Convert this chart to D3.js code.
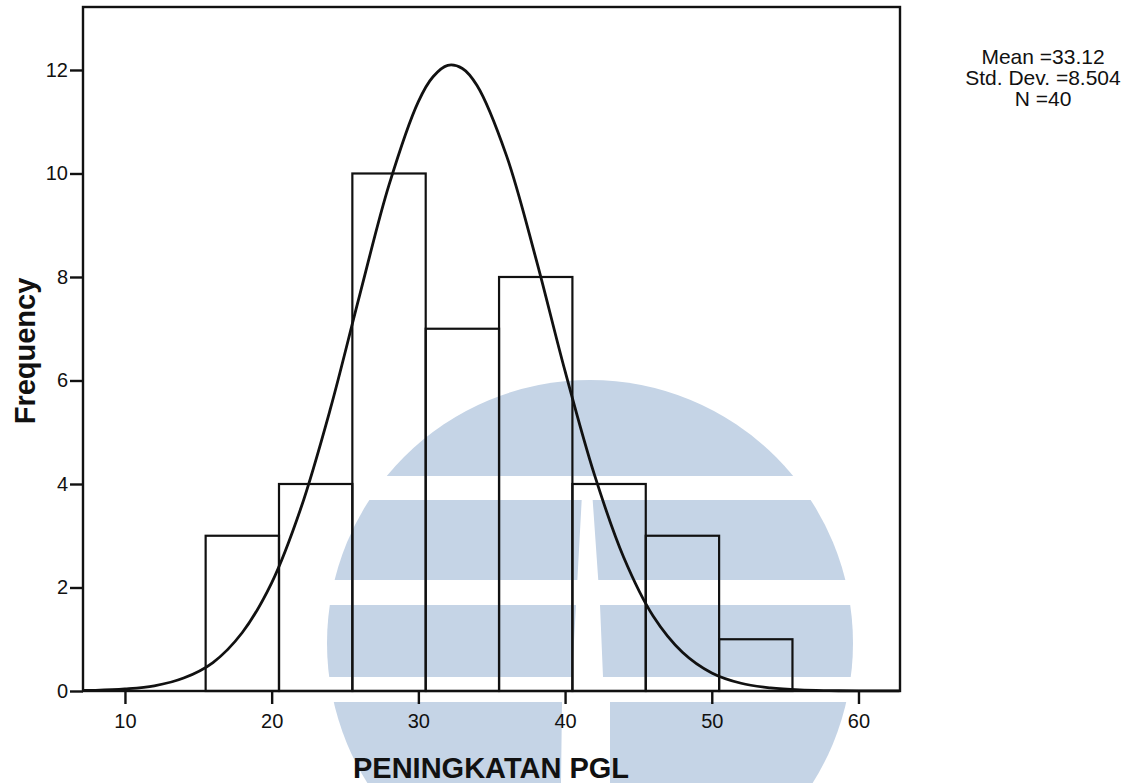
<!DOCTYPE html>
<html>
<head>
<meta charset="utf-8">
<script src="https://d3js.org/d3.v7.min.js"></script>
<style>
  body { margin: 0; background: #fff; }
  svg { display: block; font-family: "Liberation Sans", Arial, sans-serif; }
</style>
</head>
<body>
<div id="chart"></div>
<script>
// histogram bins (PENINGKATAN PGL) and counts
const binEdges = [15.5, 20.5, 25.5, 30.5, 35.5, 40.5, 45.5, 50.5, 55.5];
const counts = [3, 4, 10, 7, 8, 4, 3, 1];

// normal curve
const curveX = [7.2, 8, 10, 12, 14, 16, 18, 20, 22, 24, 26, 28, 30, 31, 32, 33, 34, 36, 38, 40, 42, 44, 46, 48, 50, 52, 54, 56, 58, 60, 62.8];
const curveY = [0.01, 0.013, 0.04, 0.1, 0.25, 0.55, 1.13, 2.09, 3.54, 5.45, 7.65, 9.78, 11.39, 11.87, 12.09, 12.03, 11.7, 10.35, 8.37, 6.18, 4.18, 2.58, 1.45, 0.75, 0.35, 0.15, 0.06, 0.02, 0.007, 0.002, 0.0005];

const xTicks = [10, 20, 30, 40, 50, 60];
const yTicks = [0, 2, 4, 6, 8, 10, 12];
const statsLines = ['Mean =33.12', 'Std. Dev. =8.504', 'N =40'];

const W = 1130, H = 783;
const plotLeft = 83, plotRight = 900, plotTop = 7, plotBottom = 691;

const svg = d3.select('#chart').append('svg')
  .attr('width', W)
  .attr('height', H);

// background watermark (light blue round logo)
const wm = svg.append('g');
const wmBlue = '#c5d4e6';
wm.append('circle')
  .attr('cx', 590).attr('cy', 643).attr('r', 263)
  .attr('fill', wmBlue);
// white horizontal gaps
[[476, 500], [580, 605], [677, 702]].forEach(([a, b]) => {
  wm.append('rect')
    .attr('x', 300).attr('y', a).attr('width', 580).attr('height', b - a)
    .attr('fill', '#fff');
});
// white wedge
wm.append('polygon')
  .attr('points', '583,476 591,476 600,605 603,677 610,702 610,783 561,783 562,702 572,677 576,605')
  .attr('fill', '#fff');

const x = d3.scaleLinear().domain([7.14, 62.83]).range([plotLeft, plotRight]);
const y = d3.scaleLinear().domain([0, 13.217]).range([plotBottom, plotTop]);

// bars
const bins = counts.map((c, i) => ({ x0: binEdges[i], x1: binEdges[i + 1], n: c }));
svg.selectAll('.bar')
  .data(bins)
  .enter()
  .append('rect')
  .attr('class', 'bar')
  .attr('x', d => x(d.x0))
  .attr('y', d => y(d.n))
  .attr('width', d => x(d.x1) - x(d.x0))
  .attr('height', d => y(0) - y(d.n))
  .attr('fill', 'none')
  .attr('stroke', '#111')
  .attr('stroke-width', 2.2);

// normal curve
const line = d3.line()
  .x(d => x(d[0]))
  .y(d => y(d[1]))
  .curve(d3.curveCatmullRom.alpha(0.5));
svg.append('path')
  .datum(curveX.map((v, i) => [v, curveY[i]]))
  .attr('d', line)
  .attr('fill', 'none')
  .attr('stroke', '#111')
  .attr('stroke-width', 2.8);

// frame
svg.append('rect')
  .attr('x', plotLeft).attr('y', plotTop)
  .attr('width', plotRight - plotLeft).attr('height', plotBottom - plotTop)
  .attr('fill', 'none')
  .attr('stroke', '#111')
  .attr('stroke-width', 2.4);

// axes
const xAxis = svg.append('g')
  .attr('transform', `translate(0,${plotBottom})`)
  .call(d3.axisBottom(x).tickValues(xTicks).tickSize(13).tickPadding(10));
const yAxis = svg.append('g')
  .attr('transform', `translate(${plotLeft},0)`)
  .call(d3.axisLeft(y).tickValues(yTicks).tickSize(13).tickPadding(2));

[xAxis, yAxis].forEach(g => {
  g.select('.domain').remove();
  g.selectAll('line').attr('stroke', '#111').attr('stroke-width', 2.4);
  g.selectAll('text')
    .attr('fill', '#111')
    .style('font-size', '20px')
    .style('font-family', '"Liberation Sans", Arial, sans-serif');
});

// axis titles
svg.append('text')
  .attr('x', 491).attr('y', 778)
  .attr('text-anchor', 'middle')
  .style('font-size', '29px')
  .style('font-weight', 'bold')
  .attr('fill', '#111')
  .text('PENINGKATAN PGL');

svg.append('text')
  .attr('transform', 'translate(35,351) rotate(-90)')
  .attr('text-anchor', 'middle')
  .style('font-size', '29px')
  .style('font-weight', 'bold')
  .attr('fill', '#111')
  .text('Frequency');

// stats box
svg.selectAll('.stat')
  .data(statsLines)
  .enter()
  .append('text')
  .attr('class', 'stat')
  .attr('x', 1043)
  .attr('y', (d, i) => 64 + i * 21)
  .attr('text-anchor', 'middle')
  .style('font-size', '21px')
  .attr('fill', '#111')
  .text(d => d);
</script>
</body>
</html>
